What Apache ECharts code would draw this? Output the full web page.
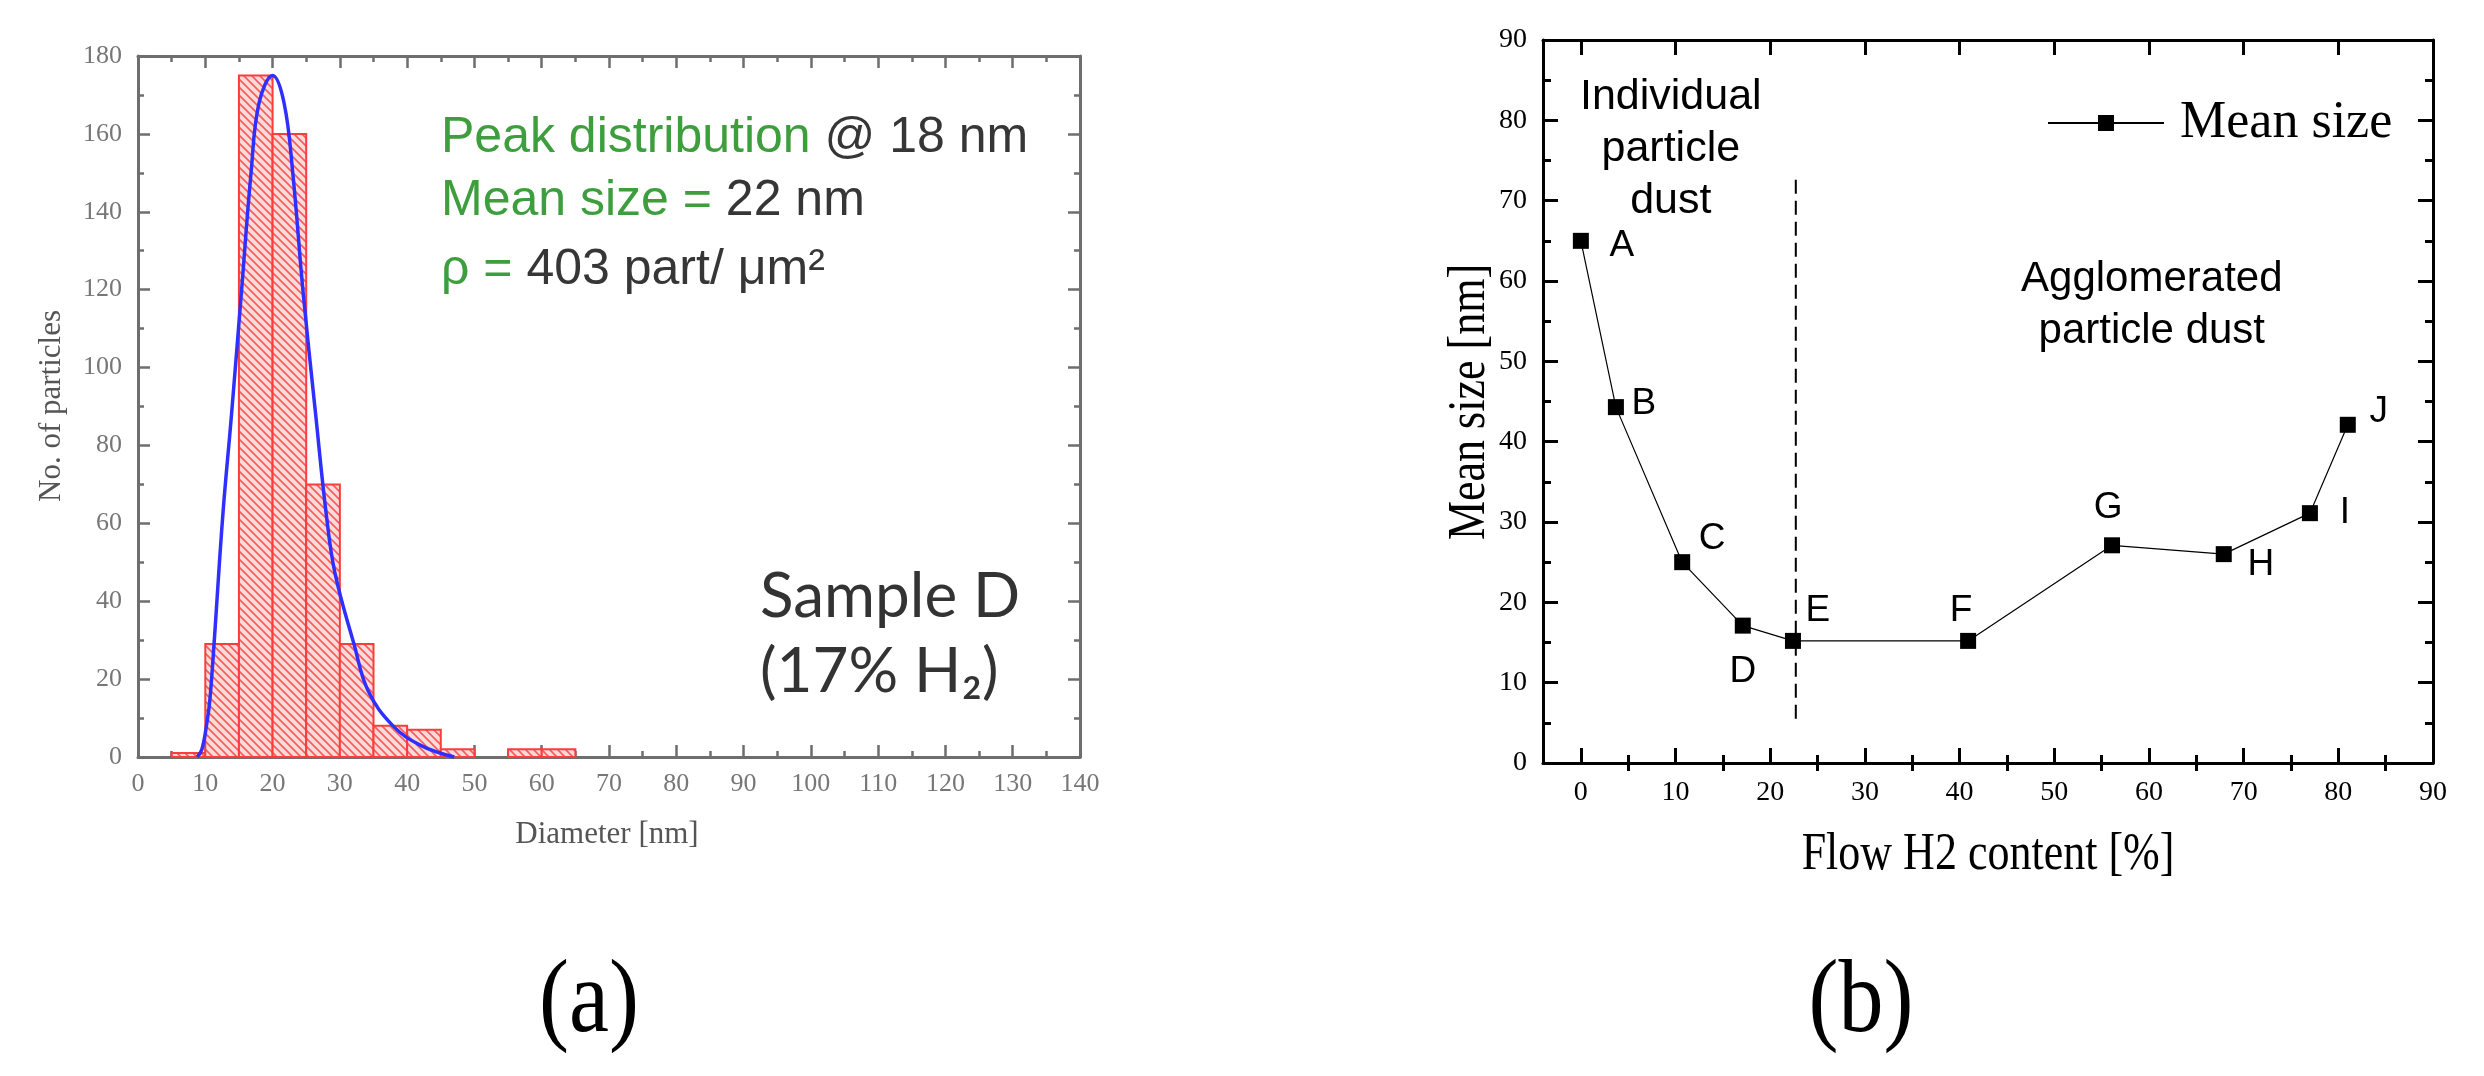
<!DOCTYPE html>
<html>
<head>
<meta charset="utf-8">
<script src="https://cdn.jsdelivr.net/npm/echarts@6/dist/echarts.min.js"></script>
<style>
html,body{margin:0;padding:0;background:#fff;}
#c{width:2484px;height:1076px;}
</style>
</head>
<body>
<div id="c"></div>
<script>
// ---------- Panel (a): particle size histogram ----------
const histBinLo = [5, 10, 15, 20, 25, 30, 35, 40, 45, 55, 60];
const histBinHi = [10, 15, 20, 25, 30, 35, 40, 45, 50, 60, 65];
const histCounts = [1, 29, 175, 160, 70, 29, 8, 7, 2, 2, 2];
const fitX = [8.8, 9.5, 10.3, 10.7, 11.3, 12.6, 13.9, 15.4, 16.8, 18, 20, 21.7, 23, 24.5, 26.4, 28, 29.3, 32.1, 34.2, 37.9, 42, 47];
const fitY = [0, 2, 9.5, 15, 29, 62, 88, 120, 150, 168, 175, 168, 150, 120, 88, 62, 47, 29, 17, 8, 3, 0];
const diamTicks = [0, 10, 20, 30, 40, 50, 60, 70, 80, 90, 100, 110, 120, 130, 140];
const countTicks = [0, 20, 40, 60, 80, 100, 120, 140, 160, 180];

// ---------- Panel (b): mean size vs flow H2 ----------
const flowH2 = [0, 3.7, 10.7, 17.1, 22.4, 40.9, 56.1, 67.9, 77, 81];
const meanSize = [65, 44.3, 25, 17.1, 15.2, 15.2, 27.1, 26, 31.1, 42.1];
const sampleNames = ['A', 'B', 'C', 'D', 'E', 'F', 'G', 'H', 'I', 'J'];
const dividerX = [22.7, 22.7];
const dividerY = [5.5, 73];
const flowMajorTicks = [0, 10, 20, 30, 40, 50, 60, 70, 80, 90];
const flowMinorTicks = [5, 15, 25, 35, 45, 55, 65, 75, 85];

// label offsets (style, px) for sample letters
const letterOffsets = [[41,5],[28,-3],[30,-23],[0,46],[25,-30],[-7,-30],[-4,-37],[37,11],[35,0],[31,-13]];

// hatch pattern
const pc = document.createElement('canvas');
const s = 8;
pc.width = s; pc.height = s;
const ctx = pc.getContext('2d');
ctx.fillStyle = '#fcdada';
ctx.fillRect(0, 0, s, s);
ctx.strokeStyle = '#f25c5c';
ctx.lineWidth = 1.6;
for (let k = -1; k <= 1; k++) {
  ctx.beginPath();
  ctx.moveTo(-s, -s + k * s);
  ctx.lineTo(2 * s, 2 * s + k * s);
  ctx.stroke();
}
const hatch = { image: pc, repeat: 'repeat' };

const grayAxis = '#6e6e6e';
const serif = 'Liberation Serif';
const NB = '\u00a0';

function axA(extra) {
  return Object.assign({
    gridIndex: 0, type: 'value',
    axisLine: { show: true, onZero: false, lineStyle: { color: grayAxis, width: 3 } },
    axisTick: { show: true, inside: true, length: 12, lineStyle: { color: grayAxis, width: 2.5 } },
    minorTick: { show: true, splitNumber: 2, length: 6, lineStyle: { color: grayAxis, width: 2.5 } },
    splitLine: { show: false }, minorSplitLine: { show: false },
    axisLabel: { show: true, color: '#777', fontFamily: serif, fontSize: 26, margin: 14 }
  }, extra);
}
function axB(extra) {
  return Object.assign({
    gridIndex: 1, type: 'value',
    axisLine: { show: true, onZero: false, lineStyle: { color: '#000', width: 3 } },
    axisTick: { show: true, inside: true, length: 15, lineStyle: { color: '#000', width: 3 } },
    splitLine: { show: false },
    axisLabel: { show: true, color: '#000', fontFamily: serif, fontSize: 28, margin: 16 }
  }, extra);
}

const chart = echarts.init(document.getElementById('c'), null, { renderer: 'canvas' });

const richA = {
  g: { fontFamily: 'Liberation Sans', fontSize: 50, fill: '#3e9e3e', color: '#3e9e3e' },
  k: { fontFamily: 'Liberation Sans', fontSize: 50, fill: '#363636', color: '#363636' }
};

const option = {
  backgroundColor: '#fff',
  animation: false,
  grid: [
    { left: 138, top: 56, width: 942, height: 701 },
    { left: 1543, top: 40, width: 890, height: 723 }
  ],
  legend: {
    data: ['Mean size'],
    left: 2042, top: 92,
    itemWidth: 116, itemHeight: 20,
    textStyle: { fontFamily: serif, fontSize: 52, color: '#000', padding: [0, 0, 0, 11] },
    selectedMode: false
  },
  xAxis: [
    axA({ position: 'bottom', min: diamTicks[0], max: diamTicks[diamTicks.length - 1], interval: 10 }),
    axA({ position: 'top', min: diamTicks[0], max: diamTicks[diamTicks.length - 1], interval: 10, axisLabel: { show: false } }),
    axB({ position: 'bottom', min: -4, max: 90,
      axisLabel: { show: true, color: '#000', fontFamily: serif, fontSize: 28, margin: 16, customValues: flowMajorTicks },
      axisTick: { show: true, inside: true, length: 15, customValues: flowMajorTicks, lineStyle: { color: '#000', width: 3 } } }),
    axB({ position: 'bottom', min: -4, max: 90, axisLine: { show: false },
      axisLabel: { show: false },
      axisTick: { show: true, inside: true, length: 8, customValues: flowMinorTicks, lineStyle: { color: '#000', width: 3 } } }),
    axB({ position: 'top', min: -4, max: 90,
      axisLabel: { show: false },
      axisTick: { show: true, inside: true, length: 15, customValues: flowMajorTicks, lineStyle: { color: '#000', width: 3 } } }),
    axB({ position: 'top', min: -4, max: 90, axisLine: { show: false },
      axisLabel: { show: false },
      axisTick: { show: true, inside: true, length: 8, customValues: flowMinorTicks, lineStyle: { color: '#000', width: 3 } } })
  ],
  yAxis: [
    axA({ position: 'left', min: countTicks[0], max: countTicks[countTicks.length - 1], interval: 20, axisLabel: { color: '#777', fontFamily: serif, fontSize: 26, margin: 16 } }),
    axA({ position: 'right', min: countTicks[0], max: countTicks[countTicks.length - 1], interval: 20, axisLabel: { show: false } }),
    axB({ position: 'left', min: 0, max: 90, interval: 10,
      minorTick: { show: true, splitNumber: 2, length: 8, lineStyle: { color: '#000', width: 3 } } }),
    axB({ position: 'right', min: 0, max: 90, interval: 10, axisLabel: { show: false },
      minorTick: { show: true, splitNumber: 2, length: 8, lineStyle: { color: '#000', width: 3 } } })
  ],
  series: [
    {
      type: 'custom', xAxisIndex: 0, yAxisIndex: 0,
      data: histBinLo.map((lo, i) => [lo, histBinHi[i], histCounts[i]]),
      encode: { x: [0, 1], y: 2 },
      renderItem: function (params, api) {
        const p0 = api.coord([api.value(0), api.value(2)]);
        const p1 = api.coord([api.value(1), 0]);
        return {
          type: 'rect',
          shape: { x: p0[0], y: p0[1], width: p1[0] - p0[0], height: p1[1] - p0[1] },
          style: { fill: hatch, stroke: '#ff3c3c', lineWidth: 2 }
        };
      },
      z: 2
    },
    {
      type: 'line', xAxisIndex: 0, yAxisIndex: 0,
      data: fitX.map((x, i) => [x, fitY[i]]),
      smooth: 0.4, showSymbol: false, symbol: 'none',
      lineStyle: { color: '#2f2fff', width: 3.5 },
      z: 3
    },
    {
      name: 'Mean size',
      type: 'line', xAxisIndex: 2, yAxisIndex: 2,
      data: flowH2.map((x, i) => ({
        value: [x, meanSize[i]],
        label: {
          show: true, formatter: sampleNames[i], position: 'inside',
          offset: letterOffsets[i],
          fontFamily: 'Liberation Sans', fontSize: 37, color: '#000'
        }
      })),
      symbol: 'rect', symbolSize: 16,
      itemStyle: { color: '#000' },
      lineStyle: { color: '#000', width: 1.2 },
      z: 4
    },
    {
      type: 'line', xAxisIndex: 2, yAxisIndex: 2,
      data: dividerX.map((x, i) => [x, dividerY[i]]),
      symbol: 'none',
      lineStyle: { color: '#000', width: 2, type: [14, 7] },
      z: 3
    },
    {
      type: 'scatter', xAxisIndex: 2, yAxisIndex: 2,
      symbolSize: 0, silent: true,
      itemStyle: { opacity: 1 },
      data: [
        { value: [9.5, 76.4], label: { formatter: 'Individual\nparticle\ndust', fontSize: 43 } },
        { value: [60.3, 56.9], label: { formatter: 'Agglomerated\nparticle dust', fontSize: 42 } }
      ],
      label: {
        show: true, position: 'inside', fontFamily: 'Liberation Sans', fontSize: 42, opacity: 1,
        lineHeight: 52, color: '#000', align: 'center', verticalAlign: 'middle'
      }
    }
  ],
  graphic: [
    { type: 'text', x: 441, y: 138, style: {
        text: '{g|Peak distribution' + NB + '}{k|@ 18 nm}',
        verticalAlign: 'middle', align: 'left', rich: richA } },
    { type: 'text', x: 441, y: 201, style: {
        text: '{g|Mean size =' + NB + '}{k|22 nm}',
        verticalAlign: 'middle', align: 'left', rich: richA } },
    { type: 'text', x: 441, y: 270, style: {
        text: '{g|ρ =' + NB + '}{k|403 part/ μm²}',
        verticalAlign: 'middle', align: 'left', rich: richA } },
    { type: 'text', x: 760, y: 597, style: { text: 'Sample D', fontFamily: 'Lato', fontSize: 62,
        fill: '#333', align: 'left', verticalAlign: 'middle' } },
    { type: 'text', x: 760, y: 672, style: { text: '(17% H₂)', fontFamily: 'Lato', fontSize: 62,
        fill: '#333', align: 'left', verticalAlign: 'middle' } },
    { type: 'text', x: 607, y: 835, style: { text: 'Diameter [nm]', fontFamily: serif, fontSize: 31,
        fill: '#555', align: 'center', verticalAlign: 'middle' } },
    { type: 'text', x: 52, y: 406, rotation: Math.PI / 2, style: { text: 'No. of particles', fontFamily: serif, fontSize: 31,
        fill: '#555', align: 'center', verticalAlign: 'middle' } },
    { type: 'text', x: 1988, y: 855, scaleY: 1.18, style: { text: 'Flow H2 content [%]', fontFamily: serif, fontSize: 44,
        fill: '#000', align: 'center', verticalAlign: 'middle' } },
    { type: 'text', x: 1470, y: 402, rotation: Math.PI / 2, scaleY: 1.18, style: { text: 'Mean size [nm]', fontFamily: serif, fontSize: 44,
        fill: '#000', align: 'center', verticalAlign: 'middle' } },
    { type: 'text', x: 589, y: 1004, scaleY: 1.15, style: { text: '(a)', fontFamily: serif, fontSize: 90,
        fill: '#000', align: 'center', verticalAlign: 'middle' } },
    { type: 'text', x: 1861, y: 1004, scaleY: 1.15, style: { text: '(b)', fontFamily: serif, fontSize: 90,
        fill: '#000', align: 'center', verticalAlign: 'middle' } }
  ]
};
chart.setOption(option);
</script>
</body>
</html>
